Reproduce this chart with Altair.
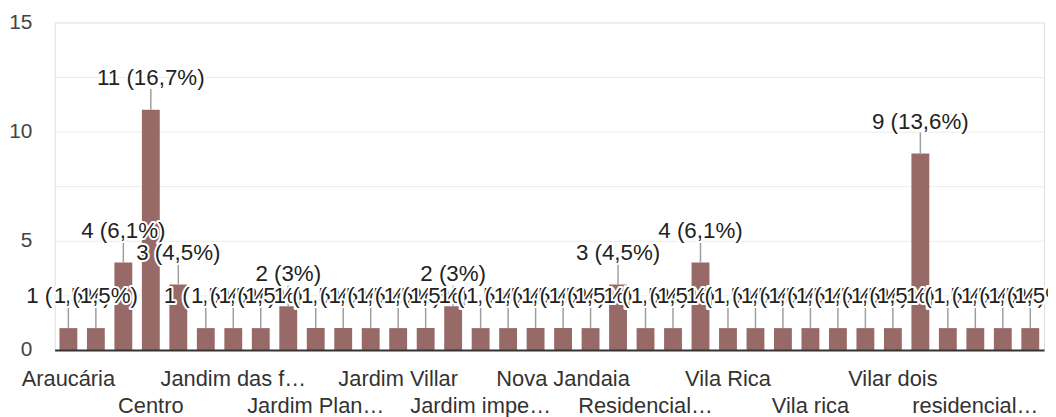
import altair as alt
import pandas as pd

# ---- data ----
counts = [1, 1, 4, 11, 3, 1, 1, 1, 2, 1, 1, 1, 1, 1, 2, 1, 1, 1,
          1, 1, 3, 1, 1, 4, 1, 1, 1, 1, 1, 1, 1, 9, 1, 1, 1, 1]
tick_labels = ["Araucária", "Centro", "Jandim das f…", "Jardim Plan…",
               "Jardim Villar", "Jardim impe…", "Nova Jandaia", "Residencial…",
               "Vila Rica", "Vila rica", "Vilar dois", "residencial…"]
tick_step = 3
y_ticks = [0, 2.5, 5, 7.5, 10, 12.5, 15]

FONT = "Liberation Sans"
BAR = "#976a67"

total = sum(counts)


def fmt(v):
    p = f"{round(v / total * 100, 1):.1f}".replace(".", ",")
    if p.endswith(",0"):
        p = p[:-2]
    return f"{v} ({p}%)"


n = len(counts)
df = pd.DataFrame({"idx": list(range(n)), "count": counts,
                   "label": [fmt(v) for v in counts]})
ticks_df = pd.DataFrame({"idx": [i * tick_step for i in range(len(tick_labels))],
                         "name": tick_labels,
                         "row": [i % 2 for i in range(len(tick_labels))]})

x_enc = alt.X("idx:O",
              scale=alt.Scale(domain=list(range(n)), paddingInner=0.35, paddingOuter=0.175),
              axis=alt.Axis(labels=False, ticks=False, title=None, grid=False,
                            domainColor="#333333", domainWidth=2, zindex=1))
y_enc = alt.Y("count:Q",
              scale=alt.Scale(domain=[0, 15], nice=False),
              axis=alt.Axis(values=y_ticks, title=None, domain=False, ticks=False,
                            labelExpr="datum.value % 5 == 0 ? datum.label : ''",
                            gridColor="#ebebeb", gridWidth=1, labelPadding=23,
                            labelFontSize=21, labelColor="#444444", labelFont=FONT))

bars = alt.Chart(df).mark_bar(color=BAR).encode(x=x_enc, y=y_enc)

leaders = alt.Chart(df).mark_rule(color="#9e9e9e", strokeWidth=1.5, y2Offset=-21).encode(
    x=alt.X("idx:O"), y=alt.Y("count:Q"), y2=alt.Y2("count"))

label_layers = []
for i in range(n):
    base = alt.Chart(df).transform_filter(alt.datum.idx == i)
    halo = base.mark_text(font=FONT, fontSize=22.5, baseline="alphabetic", align="center",
                          dy=-25, fill="white", stroke="white", strokeWidth=4,
                          strokeJoin="round").encode(
        x=alt.X("idx:O"), y=alt.Y("count:Q"), text="label:N")
    txt = base.mark_text(font=FONT, fontSize=22.5, baseline="alphabetic", align="center",
                         dy=-25, color="#222222").encode(
        x=alt.X("idx:O"), y=alt.Y("count:Q"), text="label:N")
    label_layers += [halo, txt]

tick_rows = []
for r, ypx in [(0, 366), (1, 394)]:
    tick_rows.append(
        alt.Chart(ticks_df).transform_filter(alt.datum.row == r)
        .mark_text(font=FONT, fontSize=22, baseline="alphabetic", align="center",
                   color="#333333")
        .encode(x=alt.X("idx:O"), y=alt.value(ypx), text="name:N"))

chart = alt.layer(bars, leaders, *label_layers, *tick_rows).properties(
    width=997, height=330,
    padding={"left": 47, "top": 13, "right": 4, "bottom": 66},
    autosize=alt.AutoSizeParams(type="none"),
).configure_view(stroke="#ebebeb", strokeWidth=1).configure(background="white")

chart.save("out.html", embed_options={"renderer": "svg", "actions": False})
